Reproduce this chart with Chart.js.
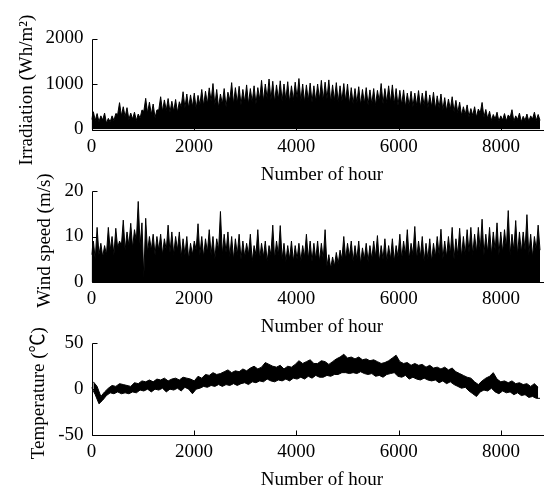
<!DOCTYPE html>
<html><head><meta charset="utf-8">
<script src="https://cdn.jsdelivr.net/npm/chart.js@4.4.1/dist/chart.umd.min.js"></script>
<style>
html,body{margin:0;padding:0;overflow:hidden;background:#fff;width:544px;height:492px;position:relative;}
canvas{position:absolute;left:0;}
</style></head><body>
<canvas id="c1" width="560" height="190" style="top:0px"></canvas>
<canvas id="c2" width="560" height="190" style="top:152px"></canvas>
<canvas id="c3" width="560" height="190" style="top:305px"></canvas>
<script>
// one sample pair every 73 h (120 samples cover 8760 h)
const STEP = 73;
const xTicks = [0, 2000, 4000, 6000, 8000];
const irrTicks = [0, 1000, 2000];
const windTicks = [0, 10, 20];
const tempTicks = [-50, 0, 50];

const irrHi = [390,350,300,360,245,300,350,590,500,480,
 360,380,340,430,685,600,560,430,720,650,
 680,620,660,610,830,780,760,800,750,880,
 840,915,1010,880,780,900,820,1030,920,950,
 880,980,900,960,920,1080,1000,1110,1060,980,
 1070,1000,1050,960,1040,1120,1000,980,1020,960,
 1000,1080,1040,1090,980,1030,960,1010,1000,920,
 900,940,880,920,870,900,860,1010,900,960,
 980,900,860,870,800,840,800,855,800,850,
 760,820,740,780,700,670,720,640,600,500,
 540,460,500,450,594,440,400,330,380,300,
 350,320,435,300,360,290,340,300,380,330];
const irrLo = [220,200,170,210,140,170,200,330,300,280,
 220,230,200,250,400,360,330,260,430,400,
 420,380,400,380,500,480,470,500,460,540,
 520,560,620,540,480,560,500,640,560,580,
 540,600,560,600,560,660,620,680,650,600,
 660,620,650,600,640,690,620,600,630,600,
 620,660,640,670,600,640,600,620,620,560,
 560,580,540,570,540,560,530,620,560,590,
 600,560,530,540,500,520,500,530,490,520,
 470,500,450,480,430,410,440,390,370,310,
 330,280,310,270,360,270,240,200,230,180,
 210,190,260,180,220,170,200,180,230,200];

const windHi = [9,12,8.5,8,12,10,11.8,9,13.6,11,
 12.9,11.5,17.7,13,14,10,10.5,10,10.5,9.5,
 12.5,11,10,11,9.5,10,8.5,9,12.8,10,
 9.5,11.5,10,9.5,15.5,10.5,11,10,9.5,10.5,
 9,8.5,10.5,8,11.5,8.5,9,8,12.5,9,
 12.4,8.5,8,9,8,8.5,8,10.5,9,8.5,
 9,8.5,11.5,6,5.5,6.5,7,10,8.5,9,
 8,9,7.5,8.5,8,9,10.2,8,9.5,8,
 9.5,8,10.5,9,11.5,8.5,12.2,9,10,8.5,
 9.5,8.5,10,11.6,9,10,12,9.5,11.8,10,
 11.5,12,10.5,12,13.8,10.5,12,11,13,11,
 11.5,15.7,10.5,13.5,11,11,14.8,10.5,10,12.5];
const windLo = [6,5,6,5.5,6,7,6,7.5,8,7,
 8,7.5,9,8,1,6.5,7,6,7,6,
 7,6.5,6,7,5.5,6,5,6,7,6,
 5.5,6.5,6,5,7,6,6.5,5.5,5,6,
 5,5.5,6,4.5,6,5,5.5,4.5,6,5,
 6,5,4.5,5,4.5,5,4.5,5.5,5,4.5,
 5,4.5,5,3.5,3,3.5,4,5,5,5.5,
 4.5,5,4,5,4.5,5,5.5,4.5,5,4.5,
 5,4.5,5.5,5,6,5,6,5,5.5,4.5,
 5,4.5,5.5,6,5,5.5,6,5,6,5.5,
 6,6.5,6,6.5,7,6,6.5,6,7,6,
 6.5,7.5,6,7,6,6.5,7,6,5.5,7];

const tempHi = [8,3,-8,-3,1,4,3,6,5,4,
 3,7,6,9,8,10,8,11,10,12,
 9,11,12,10,13,12,11,9,14,12,
 16,15,18,16,17,19,21,18,20,19,
 22,20,23,25,22,24,29,27,25,24,
 26,22,25,24,27,31,28,30,32,28,
 28,31,30,27,30,33,35,38,34,35,
 33,35,32,33,31,32,30,28,29,31,
 34,37,30,28,29,26,28,26,27,24,
 26,23,24,22,24,21,23,19,17,15,
 13,12,8,5,9,12,14,18,11,8,
 9,7,9,6,7,5,6,3,6,2];
const tempLo = [2,-6,-16,-12,-7,-4,-5,-3,-5,-4,
 -5,-3,-4,-1,-2,0,-3,0,-1,1,
 -3,0,-1,1,-2,2,0,-5,0,1,
 3,2,4,3,5,3,5,4,6,4,
 6,7,5,8,7,9,8,11,9,8,
 10,9,11,9,12,11,13,11,14,12,
 15,13,13,15,14,16,16,18,18,17,
 18,17,19,17,16,17,14,15,13,16,
 17,18,14,13,15,11,13,11,10,12,
 10,9,10,7,9,6,8,5,3,1,
 2,-2,-5,-8,-3,-1,-2,1,-3,-5,
 -2,-4,-3,-6,-4,-7,-6,-9,-8,-10];

function zigzag(lo, hi) {
  const pts = [];
  for (let i = 0; i < lo.length; i++) {
    pts.push({x: i * STEP, y: lo[i]});
    pts.push({x: i * STEP + STEP / 2, y: hi[i]});
  }
  pts.push({x: lo.length * STEP, y: lo[lo.length - 1]});
  return pts;
}
function edge(vals, offset, endVal) {
  const pts = vals.map((v, i) => ({x: i * STEP + offset, y: v}));
  if (endVal !== undefined) pts.push({x: vals.length * STEP, y: endVal});
  return pts;
}

const FONT = "'Liberation Serif','Noto Sans CJK SC',serif";
const FS = 19;
Chart.defaults.font.family = FONT;
Chart.defaults.color = '#000';

const inTicks = {
  id: 'inTicks',
  afterDraw(chart, args, opts) {
    const {ctx, chartArea: a, scales: {x, y}} = chart;
    const L = Math.round(a.left) + 0.5, B = Math.round(a.bottom) + 0.5, T = Math.round(a.top) + 0.5;
    ctx.save();
    ctx.strokeStyle = '#000';
    ctx.lineWidth = 1;
    ctx.beginPath();
    ctx.moveTo(L, T); ctx.lineTo(L, B); ctx.lineTo(a.right, B);
    x.ticks.forEach(t => { const px = Math.round(x.getPixelForValue(t.value)) + 0.5; ctx.moveTo(px, B); ctx.lineTo(px, B - 5); });
    y.ticks.forEach(t => { const py = Math.round(y.getPixelForValue(t.value)) + 0.5; ctx.moveTo(L, py); ctx.lineTo(L + 5, py); });
    ctx.stroke();
    // y axis title, centred a little below the axis middle as in the reference
    ctx.fillStyle = '#000';
    ctx.font = FS + 'px ' + FONT;
    ctx.textAlign = 'center';
    ctx.textBaseline = 'middle';
    ctx.translate(opts.tx, (a.top + a.bottom) / 2 + opts.dy);
    ctx.rotate(-Math.PI / 2);
    ctx.fillText(opts.text, 0, 0);
    ctx.restore();
  }
};

function makeChart(id, cfg) {
  const H = 190, W = 560;
  const right = 91.5 + 9 * 51.2;
  new Chart(document.getElementById(id), {
    type: 'line',
    data: {datasets: cfg.datasets},
    options: {
      responsive: false, animation: false, events: [],
      layout: {autoPadding: false, padding: {top: cfg.top, left: 0, right: W - right, bottom: 0}},
      plugins: {legend: {display: false}, tooltip: {enabled: false},
        inTicks: {text: cfg.yTitle, tx: cfg.yTitleX, dy: cfg.dy}},
      elements: {point: {radius: 0}, line: {tension: 0}},
      scales: {
        x: {
          type: 'linear', min: 0, max: 9000,
          afterFit: s => { s.height = H - cfg.bottom; },
          afterBuildTicks: s => { s.ticks = xTicks.map(v => ({value: v})); },
          grid: {display: false, drawTicks: false}, border: {display: false},
          ticks: {padding: 6, font: {size: FS}, maxRotation: 0, autoSkip: false, callback: v => String(v)},
          title: {display: true, text: 'Number of hour', font: {size: FS, lineHeight: 1}, padding: {top: 0, bottom: H - cfg.xTitle - FS / 2}}
        },
        y: {
          type: 'linear', min: cfg.yTicks[0], max: cfg.yTicks[cfg.yTicks.length - 1],
          afterFit: s => { s.width = 91.5; },
          afterBuildTicks: s => { s.ticks = cfg.yTicks.map(v => ({value: v})); },
          grid: {display: false, drawTicks: false}, border: {display: false},
          ticks: {padding: 8, font: {size: FS}, autoSkip: false, callback: v => String(v)},
          title: {display: false}
        }
      }
    },
    plugins: [inTicks]
  });
}

makeChart('c1', {
  top: 38.5, bottom: 129.5, xTitle: 175, yTitleX: 27, dy: 6,
  yTicks: irrTicks, yTitle: 'Irradiation (Wh/m\u00B2)',
  datasets: [{data: zigzag(irrLo, irrHi), borderColor: '#000', borderWidth: 1, backgroundColor: '#000', fill: 'origin'}]
});
makeChart('c2', {
  top: 39, bottom: 130, xTitle: 175, yTitleX: 45, dy: 4,
  yTicks: windTicks, yTitle: 'Wind speed (m/s)',
  datasets: [{data: zigzag(windLo, windHi), borderColor: '#000', borderWidth: 1, backgroundColor: '#000', fill: 'origin'}]
});
makeChart('c3', {
  top: 38.3, bottom: 130, xTitle: 175, yTitleX: 39, dy: 4,
  yTicks: tempTicks, yTitle: 'Temperature (\u2103)',
  datasets: [
    {data: edge(tempLo, 0, tempLo[tempLo.length - 1]), borderColor: '#000', borderWidth: 1, fill: false},
    {data: edge(tempHi, STEP / 2), borderColor: '#000', borderWidth: 1, backgroundColor: '#000', fill: '-1'}
  ]
});
</script>
</body></html>
